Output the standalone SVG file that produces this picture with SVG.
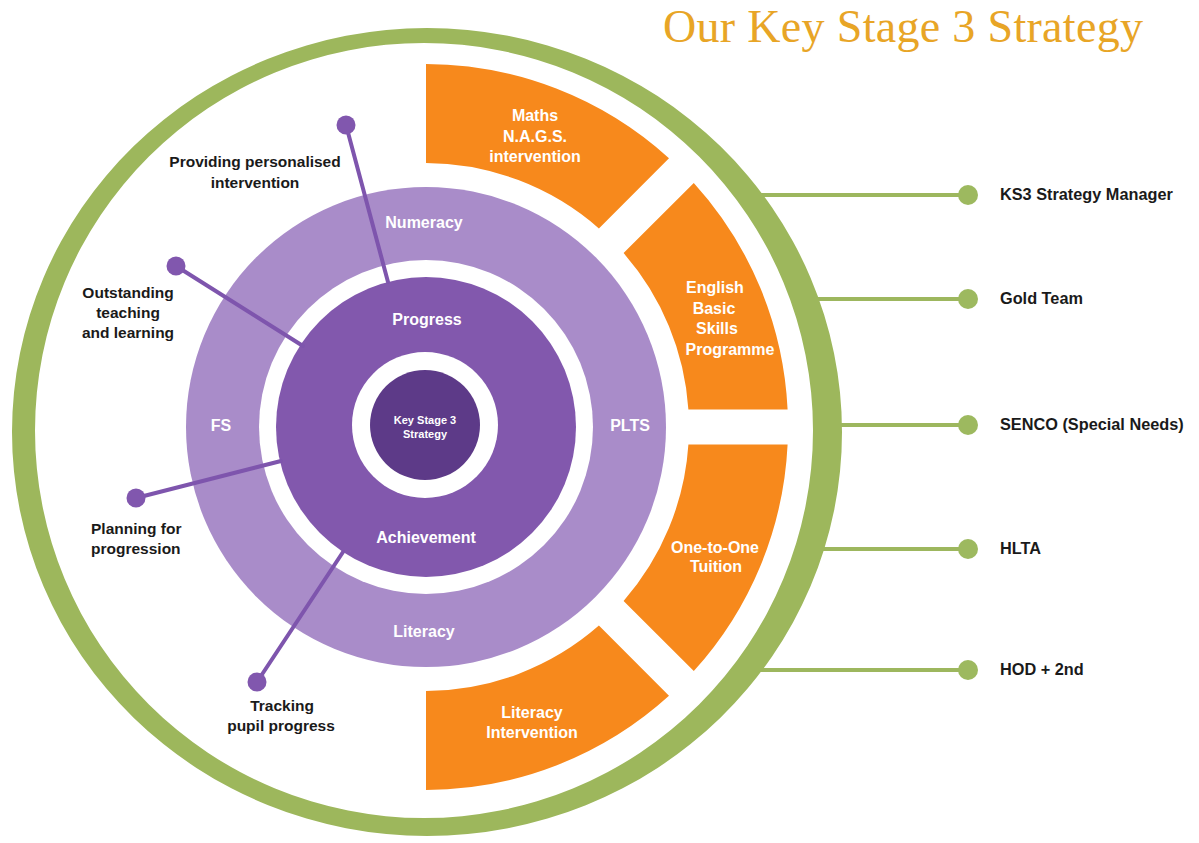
<svg xmlns="http://www.w3.org/2000/svg" width="1199" height="843" viewBox="0 0 1199 843">
<style>
.lbl{font-family:"Liberation Sans",Arial,sans-serif;font-weight:bold;font-size:15.5px;fill:#1a1a1a;text-anchor:middle}
.wt{font-family:"Liberation Sans",Arial,sans-serif;font-weight:bold;font-size:16px;fill:#ffffff;text-anchor:middle}
.rt{font-family:"Liberation Sans",Arial,sans-serif;font-weight:bold;font-size:16.3px;fill:#1a1a1a}
.seg{fill:#F7891C}
.gline{stroke:#9DB75E;stroke-width:4;fill:none}
.pline{stroke:#7E55AD;stroke-width:4;fill:none;stroke-linecap:round}
.gdot{fill:#9DB95F}
.pdot{fill:#8157AE}
</style>
<rect width="1199" height="843" fill="#ffffff"/>
<text x="663" y="42" font-family="'Liberation Serif','Times New Roman',serif" font-size="46" fill="#E8A526" textLength="480">Our Key Stage 3 Strategy</text>

<g id="connectors">
  <line class="gline" x1="760" y1="195" x2="968" y2="195"/>
  <line class="gline" x1="800" y1="299" x2="968" y2="299"/>
  <line class="gline" x1="820" y1="425" x2="968" y2="425"/>
  <line class="gline" x1="800" y1="549" x2="968" y2="549"/>
  <line class="gline" x1="760" y1="670" x2="968" y2="670"/>
</g>

<g id="outer-ring">
  <path fill="#9DB75C" fill-rule="evenodd" d="M12,432 A415,404 0 1 0 842,432 A415,404 0 1 0 12,432 Z M35,430.5 A389,387.5 0 1 0 813,430.5 A389,387.5 0 1 0 35,430.5 Z"/>
</g>

<g id="ring-outer-purple">
  <circle cx="426" cy="427" r="240" fill="#A98CC9"/>
  <circle cx="426" cy="427" r="167" fill="#ffffff"/>
  <text class="wt" x="424" y="228">Numeracy</text>
  <text class="wt" x="221" y="431">FS</text>
  <text class="wt" x="630" y="431">PLTS</text>
  <text class="wt" x="424" y="637">Literacy</text>
</g>

<g id="ring-inner-purple">
  <circle cx="426" cy="427" r="150" fill="#8258AD"/>
  <text class="wt" x="427" y="325">Progress</text>
  <text class="wt" x="426" y="543">Achievement</text>
</g>

<g id="center">
  <circle cx="425" cy="425" r="73" fill="#ffffff"/>
  <circle cx="425" cy="425" r="55" fill="#5D3A88"/>
  <text class="wt" x="425" y="424" style="font-size:11px">Key Stage 3</text>
  <text class="wt" x="425" y="438" style="font-size:11px">Strategy</text>
</g>

<g id="seg-maths">
  <path class="seg" d="M426,64 A363,363 0 0 1 669,158.3 L598.9,228.4 A264,264 0 0 0 426,163 Z"/>
  <text class="wt" x="535" y="121">Maths</text>
  <text class="wt" x="535" y="142">N.A.G.S.</text>
  <text class="wt" x="535" y="162">intervention</text>
</g>
<g id="seg-english">
  <path class="seg" d="M693.8,183 A363,363 0 0 1 787.6,409.5 L688.4,409.5 A264,264 0 0 0 623.6,253.1 Z"/>
  <text class="wt" x="715" y="293">English</text>
  <text class="wt" x="714" y="314">Basic</text>
  <text class="wt" x="717" y="334">Skills</text>
  <text class="wt" x="730" y="355">Programme</text>
</g>
<g id="seg-onetoone">
  <path class="seg" d="M787.6,444.5 A363,363 0 0 1 693.8,671 L623.6,600.9 A264,264 0 0 0 688.4,444.5 Z"/>
  <text class="wt" x="715" y="553">One-to-One</text>
  <text class="wt" x="716" y="572">Tuition</text>
</g>
<g id="seg-literacy">
  <path class="seg" d="M669,695.8 A363,363 0 0 1 426,790 L426,691 A264,264 0 0 0 598.9,625.6 Z"/>
  <text class="wt" x="532" y="718">Literacy</text>
  <text class="wt" x="532" y="738">Intervention</text>
</g>

<g id="purple-connectors">
  <line class="pline" x1="346" y1="125" x2="388" y2="282"/>
  <line class="pline" x1="176" y1="266" x2="303" y2="346"/>
  <line class="pline" x1="136" y1="498" x2="281" y2="461"/>
  <line class="pline" x1="257" y1="682" x2="343" y2="552"/>
</g>

<g id="n-personalised">
  <circle class="pdot" cx="346" cy="125" r="9.5"/>
  <text class="lbl" x="255" y="167">Providing personalised</text>
  <text class="lbl" x="255" y="188">intervention</text>
</g>
<g id="n-teaching">
  <circle class="pdot" cx="176" cy="266" r="9.5"/>
  <text class="lbl" x="128" y="298">Outstanding</text>
  <text class="lbl" x="128" y="318">teaching</text>
  <text class="lbl" x="128" y="338">and learning</text>
</g>
<g id="n-planning">
  <circle class="pdot" cx="136" cy="498" r="9.5"/>
  <text class="lbl" x="91" y="534" style="text-anchor:start">Planning for</text>
  <text class="lbl" x="91" y="554" style="text-anchor:start">progression</text>
</g>
<g id="n-tracking">
  <circle class="pdot" cx="257" cy="682" r="9.5"/>
  <text class="lbl" x="282" y="711">Tracking</text>
  <text class="lbl" x="281" y="731">pupil progress</text>
</g>

<g id="n-ks3">
  <circle class="gdot" cx="968" cy="195" r="10"/>
  <text class="rt" x="1000" y="200">KS3 Strategy Manager</text>
</g>
<g id="n-gold">
  <circle class="gdot" cx="968" cy="299" r="10"/>
  <text class="rt" x="1000" y="304">Gold Team</text>
</g>
<g id="n-senco">
  <circle class="gdot" cx="968" cy="425" r="10"/>
  <text class="rt" x="1000" y="430">SENCO (Special Needs)</text>
</g>
<g id="n-hlta">
  <circle class="gdot" cx="968" cy="549" r="10"/>
  <text class="rt" x="1000" y="554">HLTA</text>
</g>
<g id="n-hod">
  <circle class="gdot" cx="968" cy="670" r="10"/>
  <text class="rt" x="1000" y="675">HOD + 2nd</text>
</g>
</svg>
